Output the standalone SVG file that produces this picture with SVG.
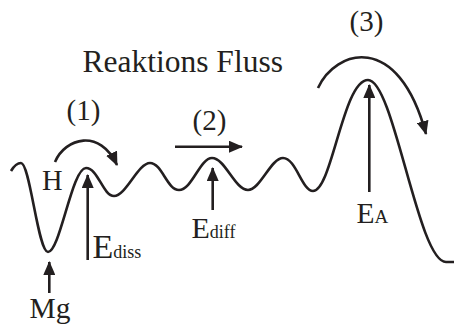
<svg xmlns="http://www.w3.org/2000/svg" width="454" height="325" viewBox="0 0 454 325">
<defs>
<marker id="ah" markerUnits="userSpaceOnUse" markerWidth="14" markerHeight="12" refX="13" refY="6" orient="auto">
<path d="M0,0 L14,6 L0,12 Z" fill="#231f20"/>
</marker>
<style>
.ln{fill:none;stroke:#231f20;stroke-width:2.6}
.ar{fill:none;stroke:#231f20;stroke-width:2.6;marker-end:url(#ah)}
text{fill:#231f20;font-family:"Liberation Serif","Times New Roman",serif}
</style>
</defs>
<rect width="454" height="325" fill="#fff"/>
<g id="connectors">
<path id="curve" class="ln" d="M11,171 C14,166 17,163 21,163 C30,163 38,252 48,252 C60,252 72,168 86,168 C98,168 103,196 114,196 C126,196 138,163 150,163 C162,163 167,190 179,190 C192,190 200,158 212,158 C225,158 235,190 248,190 C260,190 271,158 283,158 C296,158 302,191 313,191 C332,191 343,80 368,80 C394,80 418,262 446,262 L454,262"/>
<path class="ar" d="M55,162 C65,138 100,128 117,165"/>
<path class="ar" d="M175,146.7 L242,146.7"/>
<path class="ar" d="M318,88 C335,50 398,30 426,134"/>
<path class="ar" d="M49.3,293 L49.3,262"/>
<path class="ar" d="M87.7,260 L87.7,175"/>
<path class="ar" d="M212.7,210 L212.7,168"/>
<path class="ar" d="M369.3,192 L369.3,85"/>
</g>
<g id="title"><text x="82.5" y="72" font-size="31.5">Reaktions Fluss</text></g>
<g id="step1"><text x="66.5" y="120" font-size="29">(1)</text></g>
<g id="step2"><text x="192.5" y="130" font-size="29">(2)</text></g>
<g id="step3"><text x="349.5" y="31" font-size="29">(3)</text></g>
<g id="H"><text x="42" y="189.5" font-size="28.5">H</text></g>
<g id="Mg"><text x="29.5" y="318.3" font-size="29.5">Mg</text></g>
<g id="Ediss"><text x="92.5" y="257.5" font-size="34">E<tspan font-size="18">diss</tspan></text></g>
<g id="Ediff"><text x="191.5" y="238.3" font-size="30">E<tspan font-size="18">diff</tspan></text></g>
<g id="EA"><text x="356.5" y="223" font-size="29.5">E<tspan font-size="19">A</tspan></text></g>
</svg>
